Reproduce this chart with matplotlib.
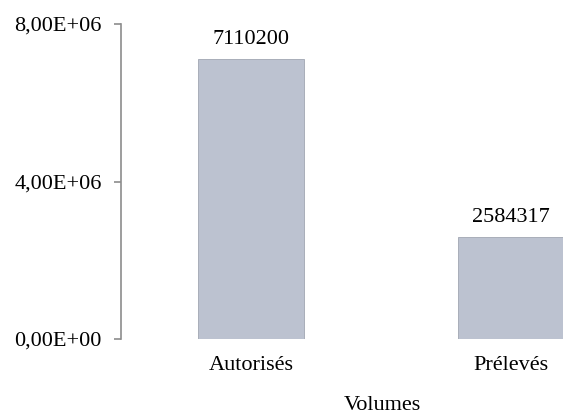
import matplotlib
matplotlib.use("Agg")
import matplotlib.pyplot as plt
from matplotlib.ticker import FuncFormatter

categories = ["Autorisés", "Prélevés"]
values = [7110200, 2584317]
yticks = [0, 4e6, 8e6]
xlabel = "Volumes"

plt.rcParams['font.family'] = ['Liberation Serif', 'DejaVu Serif']
FS = 16

fig = plt.figure(figsize=(5.63, 4.16), dpi=100)
L = 121
ax = fig.add_axes([L/563, 77/416, 1 - L/563, 315/416])

x = list(range(len(categories)))
bars = ax.bar(x, values, width=0.405, color='#bcc2d0', edgecolor='#a9aeb9', linewidth=0.7)
for xi, v in zip(x, values):
    ax.annotate(str(v), (xi, v), xytext=(0, 10.8), textcoords='offset points',
                ha='center', va='baseline', fontsize=FS, color='black')

ax.set_xlim(-0.5, 1.2)
ax.set_ylim(0, 8e6)
ax.set_yticks(yticks)
ax.yaxis.set_major_formatter(FuncFormatter(lambda v, p: ("%.2E" % v).replace('.', ',')))
ax.set_xticks(x)
ax.set_xticklabels(categories)

for s in ['top', 'right', 'bottom']:
    ax.spines[s].set_visible(False)
ax.spines['left'].set_color('#8c8c8c')
ax.spines['left'].set_linewidth(1.2)
ax.tick_params(axis='y', direction='out', length=5, width=1.2, color='#8c8c8c', labelsize=FS, pad=9)
ax.tick_params(axis='x', length=0, labelsize=FS, pad=12)
fig.text(382/563, 6/416, xlabel, ha='center', va='baseline', fontsize=FS)

fig.savefig("out.png", dpi=100)
